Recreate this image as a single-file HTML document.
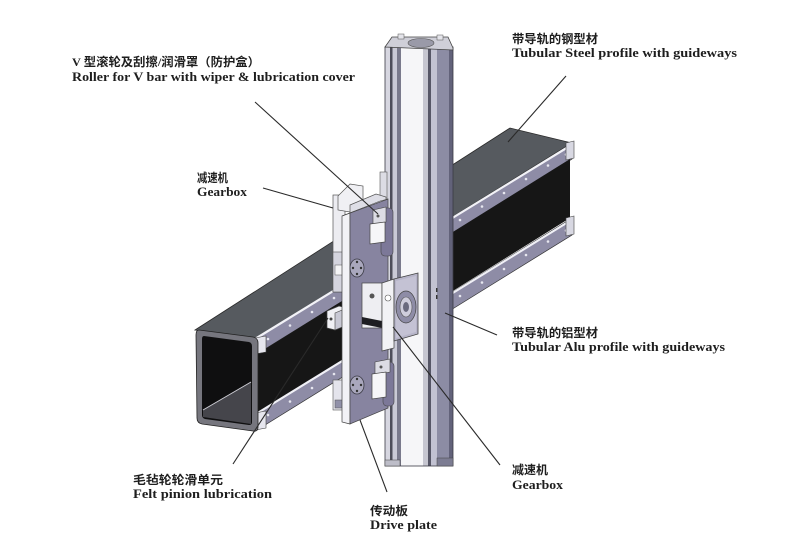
<!DOCTYPE html>
<html><head><meta charset="utf-8"><style>
html,body{margin:0;padding:0;background:#fff;}
svg{display:block;}
.en{font-family:"Liberation Serif","Noto Serif CJK SC",serif;font-weight:bold;font-size:12.5px;fill:#1e1e1e;}
.cn{font-family:"Liberation Serif","Noto Sans CJK SC",sans-serif;font-weight:bold;font-size:12px;fill:#1e1e1e;}
</style></head><body>
<svg width="806" height="546" viewBox="0 0 806 546" xmlns="http://www.w3.org/2000/svg">
<rect width="806" height="546" fill="#fff"/>

<!-- ===== Horizontal steel beam ===== -->
<polygon points="195,330 510,128 572,143 257,338" fill="#565a5f" stroke="#2a2a2a" stroke-width="0.8"/>
<!-- upper rail -->
<polygon points="257,338 572,143 572,159 257,354" fill="#8e8ca6" stroke="#333" stroke-width="0.7"/>
<line x1="255" y1="339" x2="573" y2="144" stroke="#f2f2f7" stroke-width="2.2"/>
<!-- black face -->
<polygon points="257,354 570,159 570,218 257,413" fill="#161616"/>
<!-- lower rail -->
<polygon points="257,413 572,218 572,235 257,430" fill="#8e8ca6" stroke="#333" stroke-width="0.7"/>
<line x1="256" y1="414" x2="573" y2="219" stroke="#f0f0f6" stroke-width="2.2"/>
<!-- rail holes -->
<g fill="#e8e8f0">
<circle cx="268" cy="339" r="1.3"/><circle cx="290" cy="325.5" r="1.3"/><circle cx="312" cy="312" r="1.3"/><circle cx="334" cy="298" r="1.3"/>
<circle cx="460" cy="220" r="1.3"/><circle cx="482" cy="206.5" r="1.3"/><circle cx="504" cy="193" r="1.3"/><circle cx="526" cy="179" r="1.3"/><circle cx="548" cy="165.5" r="1.3"/><circle cx="566" cy="154.5" r="1.3"/>
<circle cx="268" cy="415" r="1.3"/><circle cx="290" cy="401.5" r="1.3"/><circle cx="312" cy="388" r="1.3"/><circle cx="334" cy="374" r="1.3"/>
<circle cx="460" cy="296" r="1.3"/><circle cx="482" cy="282.5" r="1.3"/><circle cx="504" cy="269" r="1.3"/><circle cx="526" cy="255" r="1.3"/><circle cx="548" cy="241.5" r="1.3"/><circle cx="566" cy="230.5" r="1.3"/>
</g>
<!-- rail end caps -->
<polygon points="255,338 266,336 266,352 255,354" fill="#e6e6ee" stroke="#444" stroke-width="0.6"/>
<polygon points="255,413 266,411 266,428 255,430" fill="#e6e6ee" stroke="#444" stroke-width="0.6"/>
<polygon points="566,143 574,141 574,158 566,160" fill="#d8d8e2" stroke="#444" stroke-width="0.6"/>
<polygon points="566,218 574,216 574,234 566,236" fill="#d8d8e2" stroke="#444" stroke-width="0.6"/>
<!-- open end of tube -->
<path d="M199,330 L253,337 Q258,338 258,343 L258,427 Q258,432 253,431 L202,424 Q197,423 197,418 L196,335 Q196,330 199,330 Z" fill="#76767e" stroke="#222" stroke-width="0.8"/>
<path d="M204,336 L249,342 Q252,343 252,346 L252,422 Q252,425 249,425 L205,419 Q202,418 202,415 L202,339 Q202,336 204,336 Z" fill="#0f0f10"/>
<polygon points="203,417 203,410 251,382 251,424" fill="#45454b"/>
<line x1="203" y1="410" x2="251" y2="382" stroke="#cfcfd6" stroke-width="1"/>

<!-- ===== Vertical Alu column ===== -->
<g>
<rect x="385" y="47" width="5" height="419" fill="#d6d6e0"/>
<rect x="390" y="47" width="2.5" height="419" fill="#4e4e5a"/>
<rect x="392.5" y="47" width="4.5" height="419" fill="#cacad6"/>
<rect x="397" y="47" width="4" height="419" fill="#7a7a8c"/>
<rect x="401" y="47" width="22" height="419" fill="#f6f6f8"/>
<rect x="423" y="47" width="5" height="419" fill="#c6c6d0"/>
<rect x="428" y="47" width="3" height="419" fill="#565666"/>
<rect x="431" y="47" width="6" height="419" fill="#c2c2d2"/>
<rect x="437" y="47" width="12" height="419" fill="#8c8ca4"/>
<rect x="449" y="47" width="4" height="419" fill="#62627a"/>
<rect x="385" y="47" width="68" height="419" fill="none" stroke="#3a3a44" stroke-width="0.8"/>
</g>
<!-- column top -->
<polygon points="385,47 392,37 448,37 453,48 453,50 385,47" fill="#cfcfd8" stroke="#444" stroke-width="0.8"/>
<ellipse cx="421" cy="43" rx="13" ry="4.5" fill="#9a9aa8" stroke="#555" stroke-width="0.6"/>
<rect x="398" y="34" width="6" height="5" fill="#e4e4ea" stroke="#555" stroke-width="0.5"/>
<rect x="437" y="35" width="6" height="5" fill="#e4e4ea" stroke="#555" stroke-width="0.5"/>
<!-- column bottom notches -->
<rect x="385" y="460" width="15" height="6" fill="#bdbdc8" stroke="#444" stroke-width="0.5"/>
<rect x="437" y="458" width="16" height="8" fill="#7c7c92" stroke="#444" stroke-width="0.5"/>
<!-- marks on column -->
<rect x="436" y="288" width="1.5" height="4" fill="#333"/>
<rect x="436" y="295" width="1.5" height="4" fill="#333"/>

<!-- ===== Parts behind plate ===== -->
<rect x="380" y="172" width="7" height="40" fill="#dcdce4" stroke="#555" stroke-width="0.6"/>
<rect x="333" y="195" width="12" height="97" fill="#ececf1" stroke="#555" stroke-width="0.7"/>
<rect x="333" y="252" width="12" height="40" fill="#d4d4de" stroke="#555" stroke-width="0.6"/>
<rect x="335" y="265" width="8" height="10" fill="#f4f4f6" stroke="#555" stroke-width="0.5"/>
<rect x="333" y="380" width="12" height="30" fill="#e4e4ec" stroke="#555" stroke-width="0.6"/>
<rect x="335" y="400" width="8" height="8" fill="#9090a8" stroke="#555" stroke-width="0.5"/>
<polygon points="338,196 350,184 363,186 363,199 350,212 338,210" fill="#f0f0f4" stroke="#555" stroke-width="0.7"/>
<polygon points="350,205 376,194 386,197 386,207 360,218 350,215" fill="#dedee6" stroke="#555" stroke-width="0.7"/>

<!-- felt pinion block -->
<polygon points="327,311 339,306 347,308 347,325 335,330 327,328" fill="#f0f0f4" stroke="#444" stroke-width="0.7"/>
<polygon points="335,313 347,308 347,325 335,330" fill="#c8c8d4" stroke="#444" stroke-width="0.6"/>
<circle cx="331" cy="319" r="1.5" fill="#444"/>

<!-- ===== Drive plate ===== -->
<polygon points="342,216 350,213 350,424 342,422" fill="#f2f2f6" stroke="#444" stroke-width="0.7"/>
<polygon points="350,213 388,199 388,408 350,424" fill="#8784a0" stroke="#444" stroke-width="0.7"/>
<polygon points="342,216 380,201 388,199 350,213" fill="#d0d0dc" stroke="#444" stroke-width="0.5"/>
<!-- plate holes -->
<ellipse cx="357" cy="268" rx="7" ry="9" fill="#a9a7bd" stroke="#3a3a44" stroke-width="0.8"/>
<circle cx="357" cy="262" r="1.2" fill="#333"/><circle cx="357" cy="274" r="1.2" fill="#333"/><circle cx="353" cy="268" r="1.2" fill="#333"/><circle cx="361" cy="268" r="1.2" fill="#333"/>
<ellipse cx="357" cy="385" rx="7" ry="9" fill="#a9a7bd" stroke="#3a3a44" stroke-width="0.8"/>
<circle cx="357" cy="379" r="1.2" fill="#333"/><circle cx="357" cy="391" r="1.2" fill="#333"/><circle cx="353" cy="385" r="1.2" fill="#333"/><circle cx="361" cy="385" r="1.2" fill="#333"/>

<!-- upper roller -->
<rect x="381" y="208" width="12" height="48" rx="4" fill="#7c7898" stroke="#444" stroke-width="0.6"/>
<polygon points="373,210 386,207 386,222 373,225" fill="#dcdce4" stroke="#444" stroke-width="0.6"/>
<polygon points="370,224 385,222 385,242 370,244" fill="#f6f6f8" stroke="#444" stroke-width="0.7"/>
<circle cx="378" cy="216" r="1.5" fill="#555"/>
<!-- lower roller -->
<rect x="383" y="362" width="11" height="44" rx="4" fill="#7c7898" stroke="#444" stroke-width="0.6"/>
<polygon points="375,362 390,359 390,372 375,375" fill="#dcdce4" stroke="#444" stroke-width="0.6"/>
<polygon points="372,374 386,372 386,397 372,399" fill="#f6f6f8" stroke="#444" stroke-width="0.7"/>
<circle cx="381" cy="367" r="1.5" fill="#555"/>

<!-- middle gearbox -->
<rect x="362" y="283" width="20" height="45" fill="#eeeef2" stroke="#444" stroke-width="0.7"/>
<circle cx="372" cy="296" r="2.5" fill="#555"/>
<polygon points="362,317 382,321 382,328 362,324" fill="#1e1e22"/>
<polygon points="382,283 394,279 394,348 382,351" fill="#f2f2f5" stroke="#444" stroke-width="0.7"/>
<circle cx="388" cy="298" r="3" fill="#fff" stroke="#555" stroke-width="0.6"/>
<polygon points="394,279 418,273 418,334 394,341" fill="#b6b4c8" stroke="#444" stroke-width="0.8"/>
<polygon points="396,281 416,276 416,332 396,338" fill="#c4c2d4"/>
<ellipse cx="406" cy="307" rx="10" ry="16" fill="#8e8ca6" stroke="#444" stroke-width="0.7"/>
<ellipse cx="406" cy="307" rx="6" ry="10" fill="#cfcddc" stroke="#555" stroke-width="0.6"/>
<ellipse cx="406" cy="307" rx="3" ry="5" fill="#6a6a7e"/>

<!-- ===== Leader lines ===== -->
<g stroke="#2a2a2a" stroke-width="1.1" fill="none">
<line x1="255" y1="102" x2="378" y2="214"/>
<line x1="263" y1="188" x2="333" y2="208"/>
<line x1="566" y1="76" x2="508" y2="142"/>
<line x1="497" y1="335" x2="445" y2="313"/>
<line x1="393" y1="327" x2="500" y2="465"/>
<line x1="233" y1="464" x2="328" y2="318"/>
<line x1="360" y1="420" x2="387" y2="492"/>
</g>

<!-- ===== Labels ===== -->
<text class="cn" x="72" y="66" textLength="188" lengthAdjust="spacingAndGlyphs">V 型滚轮及刮擦/润滑罩（防护盒）</text>
<text class="en" x="72" y="81" textLength="283" lengthAdjust="spacingAndGlyphs">Roller for V bar with wiper &amp; lubrication cover</text>

<text class="cn" x="197" y="182" textLength="31" lengthAdjust="spacingAndGlyphs">减速机</text>
<text class="en" x="197" y="196" textLength="50" lengthAdjust="spacingAndGlyphs">Gearbox</text>

<text class="cn" x="512" y="43" textLength="86" lengthAdjust="spacingAndGlyphs">带导轨的钢型材</text>
<text class="en" x="512" y="57" textLength="225" lengthAdjust="spacingAndGlyphs">Tubular Steel profile with guideways</text>

<text class="cn" x="512" y="337" textLength="86" lengthAdjust="spacingAndGlyphs">带导轨的铝型材</text>
<text class="en" x="512" y="351" textLength="213" lengthAdjust="spacingAndGlyphs">Tubular Alu profile with guideways</text>

<text class="cn" x="512" y="474" textLength="36" lengthAdjust="spacingAndGlyphs">减速机</text>
<text class="en" x="512" y="489" textLength="51" lengthAdjust="spacingAndGlyphs">Gearbox</text>

<text class="cn" x="133" y="484" textLength="90" lengthAdjust="spacingAndGlyphs">毛毡轮轮滑单元</text>
<text class="en" x="133" y="498" textLength="139" lengthAdjust="spacingAndGlyphs">Felt pinion lubrication</text>

<text class="cn" x="370" y="515" textLength="38" lengthAdjust="spacingAndGlyphs">传动板</text>
<text class="en" x="370" y="529" textLength="67" lengthAdjust="spacingAndGlyphs">Drive plate</text>
</svg>
</body></html>
